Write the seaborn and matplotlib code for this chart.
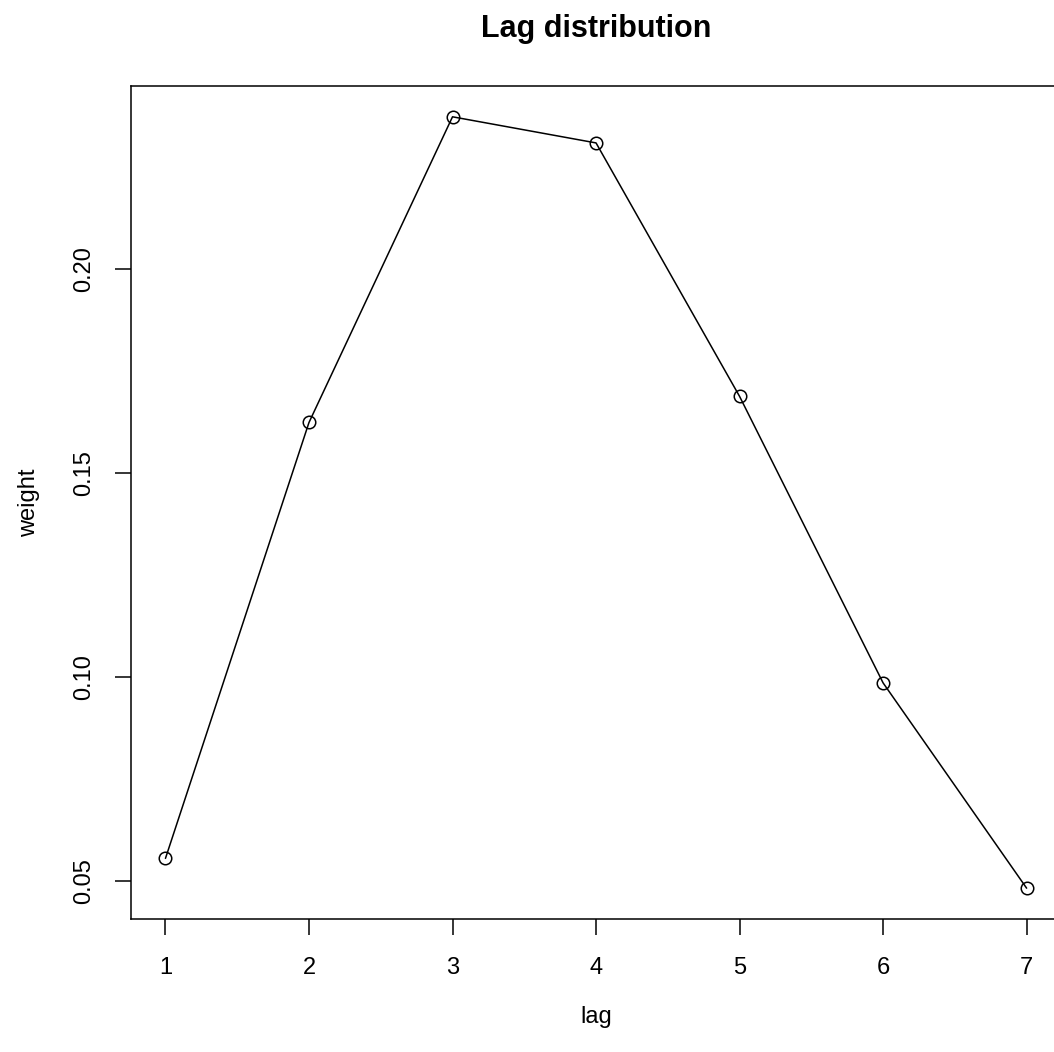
import pandas as pd
import matplotlib
matplotlib.use('Agg')
import matplotlib.pyplot as plt
import seaborn as sns

# Lag weights
lags = [1, 2, 3, 4, 5, 6, 7]
weights = [0.0556, 0.1624, 0.2373, 0.2309, 0.1688, 0.0986, 0.0483]
yticks = [0.05, 0.10, 0.15, 0.20]
ytick_labels = ['0.05', '0.10', '0.15', '0.20']

sns.set_style('white')
plt.rcParams['font.family'] = ['Liberation Sans', 'DejaVu Sans']
plt.rcParams['text.color'] = 'black'
plt.rcParams['axes.labelcolor'] = 'black'
plt.rcParams['xtick.color'] = 'black'
plt.rcParams['ytick.color'] = 'black'

df = pd.DataFrame({'lag': lags, 'weight': weights})

fig = plt.figure(figsize=(10.54, 10.52), dpi=100)
ax = fig.add_axes([0.1243, 0.1264, 0.8824, 0.7919])

sns.lineplot(data=df, x='lag', y='weight', ax=ax, color='black', linewidth=1.1,
             marker='o', markersize=9, markerfacecolor='none',
             markeredgecolor='black', markeredgewidth=1.1)

# R-style 4% padding on both axes
xr = max(lags) - min(lags)
yr = max(weights) - min(weights)
ax.set_xlim(min(lags) - 0.04 * xr, max(lags) + 0.04 * xr)
ax.set_ylim(min(weights) - 0.04 * yr, max(weights) + 0.04 * yr)

ax.set_xticks(lags)
ax.set_xticklabels([str(l) for l in lags], fontsize=17)
ax.set_yticks(yticks)
ax.set_yticklabels(ytick_labels, fontsize=17, rotation=90, va='center')

ax.tick_params(axis='both', direction='out', length=11.5, width=1.1,
               color='black', labelcolor='black', bottom=True, left=True)
ax.tick_params(axis='x', pad=16)
ax.tick_params(axis='y', pad=14)
for sp in ax.spines.values():
    sp.set_color('black')
    sp.set_linewidth(1.1)

ax.set_xlabel('lag', fontsize=17, labelpad=19, color='black')
ax.set_ylabel('weight', fontsize=17, labelpad=24, color='black')
# title centred over the plot region, like R's main=
ax.set_title('Lag distribution', fontsize=22, fontweight='bold',
             color='black', pad=35)

fig.savefig('out.png', dpi=100)
